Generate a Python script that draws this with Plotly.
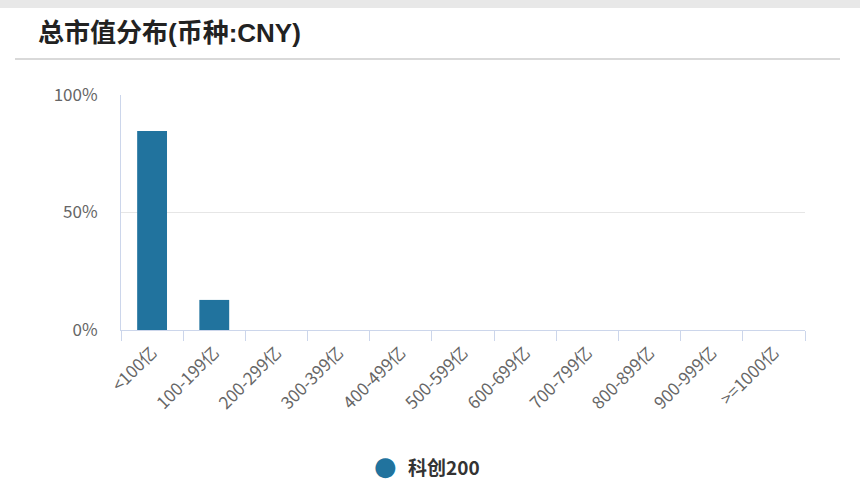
import plotly.graph_objects as go

categories = ["<100亿", "100-199亿", "200-299亿", "300-399亿", "400-499亿", "500-599亿",
              "600-699亿", "700-799亿", "800-899亿", "900-999亿", ">=1000亿"]
values = [84.7, 12.8, 0, 0, 0, 0, 0, 0, 0, 0, 0]
series_name = "科创200"
title_text = "总市值分布(币种:CNY)"
y_ticks = [0, 50, 100]
y_tick_labels = ["0%", "50%", "100%"]

W, H = 860, 498
L, R, T, B = 121, 805, 95, 330

def px_x(x):
    return (x - L) / (R - L)

def px_y(y):
    return (B - y) / (B - T)

CJK = "Noto Sans CJK SC"
LAT = "Liberation Sans, Noto Sans CJK SC"
fig = go.Figure()
fig.add_trace(go.Bar(x=categories, y=values, name=series_name,
                     marker=dict(color="#21739e", line=dict(width=0))))

fig.update_layout(
    width=W, height=H,
    margin=dict(l=L, r=W - R, t=T, b=H - B, pad=0),
    paper_bgcolor="white", plot_bgcolor="white",
    bargap=0.52,
    font=dict(family=CJK, color="#666666"),
    showlegend=False,
    xaxis=dict(type="category", showline=True, linecolor="#ccd6eb", linewidth=1,
               ticks="outside", tickson="boundaries", ticklen=10, tickcolor="#ccd6eb",
               tickangle=-45, tickfont=dict(size=17, color="#666666", family=CJK),
               ticklabelstandoff=5, showgrid=False, fixedrange=True),
    yaxis=dict(range=[0, 100], tickvals=y_ticks, ticktext=y_tick_labels,
               showline=True, linecolor="#ccd6eb", linewidth=1,
               gridcolor="#e6e6e6", gridwidth=1, zeroline=False,
               tickfont=dict(size=17, color="#666666", family=CJK), ticks="", ticklabelstandoff=19),
)

# top gray band
fig.add_shape(type="rect", xref="paper", yref="paper", x0=px_x(-5), x1=px_x(W + 5),
              y0=px_y(8), y1=px_y(-5), fillcolor="#e8e8e8", line=dict(width=0), layer="below")
# title underline
fig.add_shape(type="line", xref="paper", yref="paper", x0=px_x(15), x1=px_x(840),
              y0=px_y(59), y1=px_y(59), line=dict(color="#cccccc", width=1.5))
# title
fig.add_annotation(text="<b>" + title_text + "</b>", xref="paper", yref="paper",
                   x=px_x(36), y=px_y(33), xanchor="left", yanchor="middle", showarrow=False,
                   font=dict(size=26, color="#222222", family=LAT))
# legend
fig.add_annotation(text="●", xref="paper", yref="paper", x=px_x(385), y=px_y(466),
                   xanchor="center", yanchor="middle", showarrow=False,
                   font=dict(size=26, color="#21739e", family="DejaVu Sans"))
fig.add_annotation(text="<b>" + series_name + "</b>", xref="paper", yref="paper",
                   x=px_x(406), y=px_y(466), xanchor="left", yanchor="middle", showarrow=False,
                   font=dict(size=19, color="#333333", family=CJK))

fig.write_html("out.html", config={"displayModeBar": False},
               post_script="document.body.style.margin='0';document.body.style.overflow='hidden';")
